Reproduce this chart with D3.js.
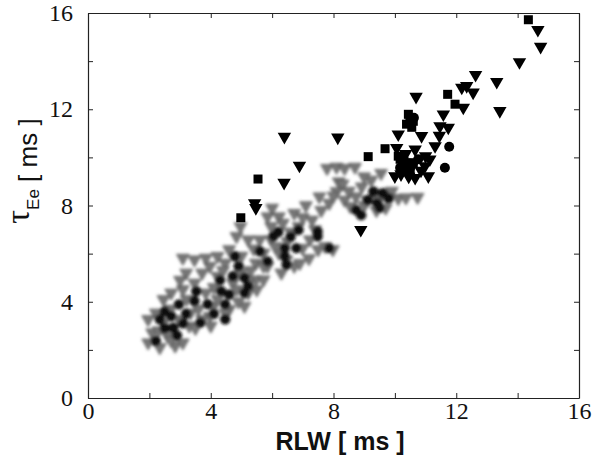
<!DOCTYPE html>
<html><head><meta charset="utf-8">
<script src="https://cdn.jsdelivr.net/npm/d3@7"></script>
<style>body{margin:0;background:#fff;}svg{display:block;}</style>
</head><body>
<svg id="chart" width="606" height="467"></svg>
<script>
// ---- data ----
const xTicks = [0, 2, 4, 6, 8, 10, 12, 14, 16];
const yTicks = [0, 2, 4, 6, 8, 10, 12, 14, 16];
const labelTicks = [0, 4, 8, 12, 16];

// grey (blurred) down-triangles: [RLW, tauEe]
const greyTri = [
 [7.79,9.55],[8.10,9.60],[8.36,9.55],[8.17,8.99],[8.10,8.58],[7.54,8.37],[7.86,8.10],[8.36,8.23],
 [8.73,8.37],[9.11,8.23],[9.36,8.51],[9.73,8.37],[10.11,8.30],[10.36,8.33],[10.74,8.35],[9.51,8.28],
 [9.23,9.06],[9.55,9.34],[8.92,8.78],[8.55,7.96],[7.10,8.00],[6.72,7.68],[6.22,7.54],[5.85,7.54],
 [5.97,7.13],[6.35,7.27],[6.86,7.13],[7.23,6.58],[6.99,6.23],[7.50,6.17],[7.73,6.30],[7.98,6.17],
 [4.97,7.13],[5.22,6.58],[4.84,6.72],[5.60,6.58],[5.97,6.58],[5.72,6.03],[6.22,6.03],[6.47,5.75],
 [6.72,5.48],[5.85,5.48],[5.47,5.61],[4.60,6.17],[4.22,5.89],[4.47,5.61],[4.97,5.20],[5.47,4.92],
 [5.72,4.92],[5.22,4.78],[4.72,4.78],[4.22,5.06],[3.97,5.48],[3.72,5.20],[3.47,5.75],[3.09,5.82],
 [3.84,5.82],[3.47,4.78],[3.09,4.51],[2.71,4.37],[2.46,4.10],[3.21,4.10],[3.84,4.37],[4.09,3.82],
 [4.60,3.68],[5.10,3.82],[2.21,3.54],[1.96,3.27],[2.46,3.13],[2.96,3.27],[3.34,3.54],[3.97,3.40],
 [4.47,3.54],[2.09,2.72],[2.59,2.58],[1.96,2.30],[2.34,2.10],[2.84,2.17],[3.09,2.30],[3.72,3.27],
 [4.22,4.10],[4.84,4.51],[5.22,4.37],[5.72,5.48],[6.60,6.90],[7.30,7.40],[8.30,8.90],[9.00,9.20],
 [3.30,3.00],[3.60,3.70],[4.10,4.60],[4.40,5.30],[5.00,5.90],[5.40,6.20],[5.30,5.30],[6.10,6.30],
 [6.50,6.50],[6.00,7.90],[7.00,7.50],[7.60,7.80],[8.00,8.40],[8.50,8.60],[9.00,8.00],[9.70,7.90],
 [2.70,3.70],[2.30,2.80],[2.70,2.40],[3.50,2.90],[4.00,3.00],[4.90,4.00],[5.50,4.50],[6.30,5.20],
 [7.20,5.80],[7.40,7.00],[8.70,9.60],[9.40,7.80],[9.90,8.60],[3.20,5.20],[3.00,4.90],[6.90,5.60]
];
// dark (blurred) circles inside the grey cluster
const darkCircBlur = [
 [4.79,5.89],[4.72,5.06],[4.34,4.44],[3.53,4.44],[2.96,3.89],[3.47,4.03],[3.66,3.13],[2.71,3.40],
 [2.34,3.27],[2.21,2.37],[2.78,2.92],[4.47,3.27],[4.47,3.89],[5.10,4.37],[5.22,4.65],[4.91,5.48],
 [5.85,5.68],[6.41,5.89],[6.47,5.54],[6.41,6.23],[6.04,6.72],[6.86,6.99],[6.79,6.23],[7.48,6.92],
 [7.48,6.72],[7.86,6.23],[8.73,7.82],[9.11,8.23],[9.42,8.10],[9.30,8.58],[9.61,8.51],[3.10,3.10],
 [2.50,2.90],[3.20,3.50],[3.90,3.90],[4.30,4.90],[4.60,4.30],[5.60,6.10],[6.20,6.90],[6.60,6.70],
 [9.50,7.90],[9.80,8.30],[2.90,2.60],[2.50,3.60],[4.10,3.50],[8.90,7.60],[5.10,5.00]
];
// sharp black down-triangles
const blackTri = [
 [6.40,10.86],[6.39,8.95],[6.89,9.66],[5.43,8.10],[5.47,7.90],[8.14,10.83],[8.89,6.99],[10.69,12.52],
 [12.63,13.43],[13.32,13.14],[13.42,11.93],[14.06,13.96],[14.66,15.30],[14.75,14.60],[12.18,12.90],
 [12.34,12.97],[12.55,12.70],[12.23,12.07],[11.58,11.79],[11.47,11.30],[11.74,11.24],[10.11,10.96],
 [10.87,10.89],[11.31,10.47],[10.06,10.40],[10.66,10.33],[10.00,9.22],[10.66,9.15],[11.09,9.22],
 [11.14,9.92],[10.98,9.64],[10.20,9.30],[10.45,9.20],[10.30,9.55],[10.85,9.45],[10.55,9.60],
 [11.00,10.05],[10.35,10.15],[11.45,10.90]
];
// sharp black squares
const blackSq = [
 [4.98,7.49],[5.54,9.10],[9.13,10.03],[9.68,10.36],[11.72,12.62],[11.96,12.21],[10.49,11.58],
 [10.44,11.79],[10.38,11.38],[10.60,11.50],[10.17,9.92],[10.38,9.64],[10.60,9.78],[10.11,10.05],
 [14.35,15.72],[10.55,11.25],[10.25,9.75],[10.50,9.45]
];
// sharp black circles
const blackCirc = [[11.77,10.44],[11.63,9.57],[10.17,9.57],[10.76,9.92],[10.45,9.75],[10.30,9.90],[10.62,11.65]];

// ---- chart ----
const svg = d3.select("#chart");
const L = 88, R = 579, T = 13, B = 398;
const x = d3.scaleLinear().domain([0,16]).range([L,R]);
const y = d3.scaleLinear().domain([0,16]).range([B,T]);

const defs = svg.append("defs");
defs.append("filter").attr("id","blur").attr("x","-20%").attr("y","-20%").attr("width","140%").attr("height","140%")
  .append("feGaussianBlur").attr("stdDeviation",1.6);

const triDown = d3.symbol().type(d3.symbolTriangle);
function tri(size){ return triDown.size(size)(); }

// blurred cluster
const gb = svg.append("g").attr("filter","url(#blur)");
gb.selectAll("path.gt").data(greyTri).join("path").attr("class","gt")
  .attr("d", tri(70))
  .attr("transform", d => `translate(${x(d[0])},${y(d[1])}) rotate(180)`)
  .attr("fill","#767676").attr("stroke","#4a4a4a").attr("stroke-width",0.8);
gb.selectAll("circle.dc").data(darkCircBlur).join("circle").attr("class","dc")
  .attr("cx", d=>x(d[0])).attr("cy", d=>y(d[1])).attr("r",5.2)
  .attr("fill","#111");

// sharp markers
const gs = svg.append("g");
gs.selectAll("path.bt").data(blackTri).join("path").attr("class","bt")
  .attr("d", tri(78))
  .attr("transform", d => `translate(${x(d[0])},${y(d[1])}) rotate(180)`)
  .attr("fill","#000");
gs.selectAll("rect.bs").data(blackSq).join("rect").attr("class","bs")
  .attr("x", d=>x(d[0])-4.5).attr("y", d=>y(d[1])-4.5).attr("width",9).attr("height",9)
  .attr("fill","#000");
gs.selectAll("circle.bc").data(blackCirc).join("circle").attr("class","bc")
  .attr("cx", d=>x(d[0])).attr("cy", d=>y(d[1])).attr("r",5)
  .attr("fill","#000");

// axes (inward ticks on all sides)
const fmt = d => labelTicks.includes(d) ? String(d) : "";
const axB = svg.append("g").attr("transform",`translate(0,${B})`)
  .call(d3.axisBottom(x).tickValues(xTicks).tickSize(-5).tickSizeOuter(0).tickPadding(4).tickFormat(fmt));
const axT = svg.append("g").attr("transform",`translate(0,${T})`)
  .call(d3.axisTop(x).tickValues(xTicks).tickSize(-5).tickSizeOuter(0).tickFormat(""));
const axL = svg.append("g").attr("transform",`translate(${L},0)`)
  .call(d3.axisLeft(y).tickValues(yTicks).tickSize(-5).tickSizeOuter(0).tickPadding(15).tickFormat(fmt));
const axR = svg.append("g").attr("transform",`translate(${R},0)`)
  .call(d3.axisRight(y).tickValues(yTicks).tickSize(-5).tickSizeOuter(0).tickFormat(""));
[axB,axT,axL,axR].forEach(a=>{
  a.selectAll(".domain").attr("stroke","#222").attr("stroke-width",1.2);
  a.selectAll(".tick line").attr("stroke","#222");
  a.selectAll("text").attr("font-family","'Liberation Serif','Times New Roman',serif")
    .attr("font-size",24).attr("fill","#111");
});

// axis titles
svg.append("text").attr("x", 340).attr("y", 450).attr("text-anchor","middle")
  .attr("font-family","'Liberation Sans',Arial,sans-serif").attr("font-weight","bold")
  .attr("font-size",25).attr("fill","#111").text("RLW [ ms ]");

const yt = svg.append("text").attr("transform","translate(37,171) rotate(-90)")
  .attr("text-anchor","middle").attr("fill","#111")
  .attr("font-family","'Liberation Sans',Arial,sans-serif").attr("font-size",26);
yt.append("tspan").attr("font-family","'Liberation Serif','Times New Roman',serif")
  .attr("font-size",34).attr("dy",-8).text("τ");
yt.append("tspan").attr("font-size",17).attr("dy",10).text("Ee");
yt.append("tspan").attr("dy",-2).text("  [ ms ]");
</script>
</body></html>
